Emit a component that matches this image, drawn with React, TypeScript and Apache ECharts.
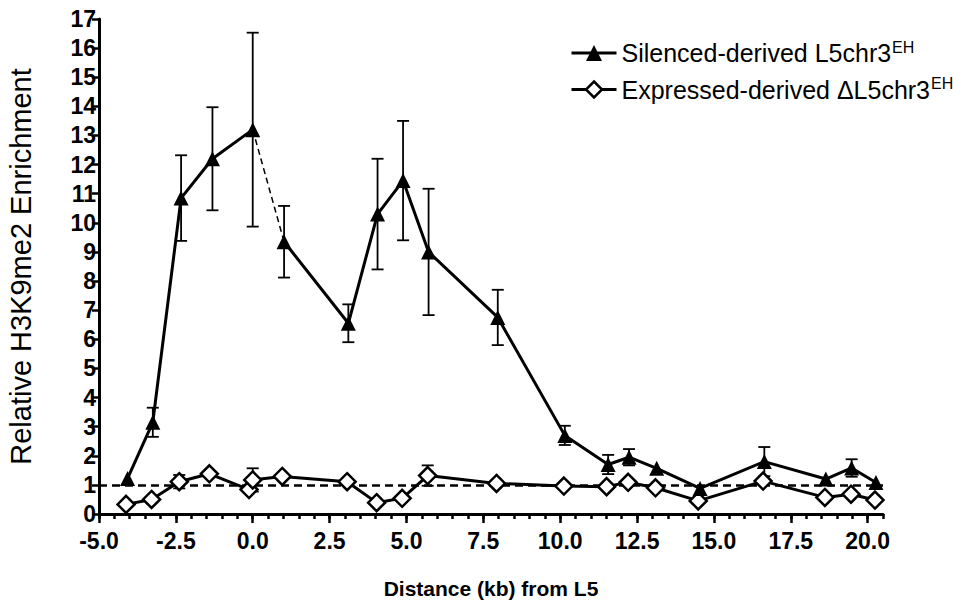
import React, { useEffect, useRef } from 'react';
import * as echarts from 'echarts';

// Distance (kb) from L5 and relative enrichment
const silencedX = [-4.07, -3.25, -2.33, -1.31, 0.0, 1.02, 3.11, 4.06, 4.89, 5.72, 7.97, 10.15, 11.56, 12.24, 13.14, 14.55, 16.64, 18.64, 19.48, 20.27];
const silencedY = [1.22, 3.15, 10.85, 12.2, 13.2, 9.35, 6.55, 10.3, 11.45, 9.0, 6.75, 2.7, 1.7, 1.95, 1.57, 0.88, 1.8, 1.2, 1.58, 1.08];
const silencedErr = [0, 0.5, 1.47, 1.77, 3.33, 1.23, 0.65, 1.9, 2.05, 2.17, 0.95, 0.33, 0.33, 0.28, 0, 0, 0.5, 0, 0.3, 0];
// the segment between these two silenced points is drawn dashed
const dashedFrom = 4;
const dashedTo = 5;

const expressedX = [-4.12, -3.29, -2.39, -1.41, -0.12, 0.0, 0.96, 3.07, 4.03, 4.86, 5.69, 7.93, 10.12, 11.51, 12.21, 13.1, 14.49, 16.6, 18.61, 19.46, 20.24];
const expressedY = [0.33, 0.5, 1.11, 1.38, 0.84, 1.17, 1.29, 1.11, 0.39, 0.54, 1.32, 1.05, 0.96, 0.94, 1.09, 0.9, 0.45, 1.13, 0.57, 0.68, 0.48];
const expressedErr = [0, 0, 0.23, 0, 0, 0.4, 0, 0, 0, 0, 0.35, 0, 0, 0, 0, 0, 0, 0, 0, 0, 0];

const xTickValues = [-5, -2.5, 0, 2.5, 5, 7.5, 10, 12.5, 15, 17.5, 20];
const xMin = -5;
const xMax = 20.5;
const yMin = 0;
const yMax = 17;
const referenceLevel = 1;

const silencedName = 'Silenced-derived L5chr3';
const expressedName = 'Expressed-derived \u0394L5chr3';
const superscript = 'EH';

const FONT = '"Liberation Sans", Arial, Helvetica, sans-serif';

const pts = (xs: number[], ys: number[]) => xs.map((x, i) => [x, ys[i]]);
const errPts = (xs: number[], ys: number[], es: number[]) =>
  xs.map((x, i) => [x, ys[i], es[i]]).filter((d) => d[2] > 0);

export default function App() {
  const ref = useRef<HTMLDivElement>(null);
  useEffect(() => {
    if (!ref.current) return;
    const chart = echarts.init(ref.current, undefined, { renderer: 'svg' });
    const silenced = pts(silencedX, silencedY);
    const errStyle = { stroke: '#000', lineWidth: 1.8 };
    const renderErr = (params: any, api: any) => {
      const x = api.value(0);
      const y = api.value(1);
      const e = api.value(2);
      const top = api.coord([x, y + e]);
      const bot = api.coord([x, y - e]);
      const hw = 6;
      return {
        type: 'group',
        children: [
          { type: 'line', shape: { x1: top[0], y1: top[1], x2: bot[0], y2: bot[1] }, style: errStyle },
          { type: 'line', shape: { x1: top[0] - hw, y1: top[1], x2: top[0] + hw, y2: top[1] }, style: errStyle },
          { type: 'line', shape: { x1: bot[0] - hw, y1: bot[1], x2: bot[0] + hw, y2: bot[1] }, style: errStyle },
        ],
      };
    };
    const option: any = {
      animation: false,
      backgroundColor: '#fff',
      textStyle: { fontFamily: FONT },
      grid: { left: 99, right: 70, top: 19, bottom: 90, containLabel: false, outerBoundsMode: 'none' },
      legend: {
        orient: 'vertical',
        left: 565,
        top: 34,
        itemWidth: 45,
        itemHeight: 20,
        itemGap: 10,
        data: [silencedName, expressedName],
        lineStyle: { width: 3 },
        itemStyle: { borderWidth: 2.5 },
        formatter: (name: string) => `{a|${name}}{s|${superscript}}`,
        textStyle: {
          color: '#000',
          fontFamily: FONT,
          rich: {
            a: { fontSize: 25, fontFamily: FONT, color: '#000', lineHeight: 28 },
            s: { fontSize: 16, fontFamily: FONT, color: '#000', verticalAlign: 'top', lineHeight: 28, padding: [0, 0, 0, 1] },
          },
        },
      },
      xAxis: [
        {
          type: 'value',
          min: xMin,
          max: xMax,
          interval: 0.5,
          axisLine: { show: true, onZero: false, lineStyle: { color: '#000', width: 3 } },
          axisTick: { show: true, length: 5, lineStyle: { color: '#000', width: 2.5 } },
          axisLabel: { show: false },
          splitLine: { show: false },
        },
        {
          type: 'value',
          min: xMin,
          max: xMax,
          interval: 2.5,
          position: 'bottom',
          axisLine: { show: false, onZero: false },
          axisTick: { show: true, length: 9, customValues: xTickValues, lineStyle: { color: '#000', width: 2.5 } },
          axisLabel: {
            show: true,
            customValues: xTickValues,
            formatter: (v: number) => v.toFixed(1),
            fontSize: 23,
            fontWeight: 'bold',
            color: '#000',
            fontFamily: FONT,
            margin: 15,
          },
          splitLine: { show: false },
          name: 'Distance (kb) from L5',
          nameLocation: 'middle',
          nameGap: 64,
          nameTextStyle: { fontSize: 21, fontWeight: 'bold', color: '#000', fontFamily: FONT },
        },
      ],
      yAxis: {
        type: 'value',
        min: yMin,
        max: yMax,
        interval: 1,
        axisLine: { show: true, onZero: false, lineStyle: { color: '#000', width: 3 } },
        axisTick: { show: true, length: 7, lineStyle: { color: '#000', width: 2.5 } },
        axisLabel: { fontSize: 23, fontWeight: 'bold', color: '#000', fontFamily: FONT, margin: 3 },
        splitLine: { show: false },
        name: 'Relative H3K9me2 Enrichment',
        nameLocation: 'middle',
        nameRotate: 90,
        nameGap: 64,
        nameTextStyle: { fontSize: 29, color: '#000', fontFamily: FONT },
      },
      series: [
        {
          type: 'custom',
          name: 'errS',
          xAxisIndex: 0,
          renderItem: renderErr,
          data: errPts(silencedX, silencedY, silencedErr),
          encode: { x: 0, y: 1 },
          z: 1,
          silent: true,
        },
        {
          type: 'custom',
          name: 'errE',
          xAxisIndex: 0,
          renderItem: renderErr,
          data: errPts(expressedX, expressedY, expressedErr),
          encode: { x: 0, y: 1 },
          z: 1,
          silent: true,
        },
        {
          type: 'line',
          name: expressedName,
          xAxisIndex: 0,
          data: pts(expressedX, expressedY),
          symbol: 'diamond',
          symbolSize: 17,
          itemStyle: { color: '#fff', borderColor: '#000', borderWidth: 2.5 },
          lineStyle: { color: '#000', width: 3 },
          z: 3,
          markLine: {
            silent: true,
            symbol: 'none',
            label: { show: false },
            lineStyle: { color: '#000', width: 2.5, type: [8, 5] },
            data: [{ yAxis: referenceLevel }],
            z: 2,
          },
        },
        {
          type: 'line',
          name: silencedName,
          xAxisIndex: 0,
          data: silenced.slice(0, dashedFrom + 1),
          symbol: 'triangle',
          symbolSize: 15,
          itemStyle: { color: '#000' },
          lineStyle: { color: '#000', width: 3 },
          z: 4,
        },
        {
          type: 'line',
          name: silencedName,
          xAxisIndex: 0,
          data: silenced.slice(dashedTo),
          symbol: 'triangle',
          symbolSize: 15,
          itemStyle: { color: '#000' },
          lineStyle: { color: '#000', width: 3 },
          z: 4,
        },
        {
          type: 'line',
          name: 'dashed',
          xAxisIndex: 0,
          data: silenced.slice(dashedFrom, dashedTo + 1),
          symbol: 'none',
          lineStyle: { color: '#000', width: 1.5, type: [6, 4] },
          z: 3,
        },
      ],
    };
    chart.setOption(option);
    return () => chart.dispose();
  }, []);
  return <div ref={ref} style={{ width: 953, height: 604, position: 'absolute', left: 0, top: 0 }} />;
}
